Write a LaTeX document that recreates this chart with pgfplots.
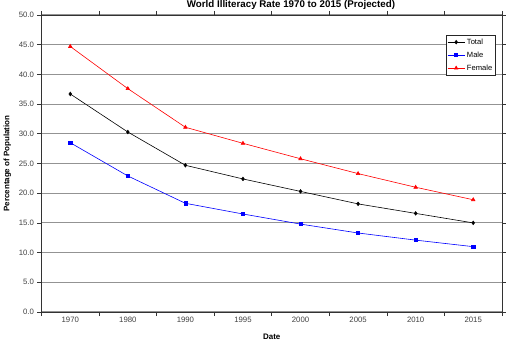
\documentclass[border=0pt]{standalone}
\usepackage{pgfplots}
\pgfplotsset{compat=1.18}
\usepackage{fontspec}
\setmainfont{Liberation Sans}

% World illiteracy rate, per cent of population
\pgfplotstableread{
idx year total male female
0 1970 36.7 28.5 44.7
1 1980 30.3 22.9 37.6
2 1990 24.7 18.3 31.1
3 1995 22.4 16.5 28.4
4 2000 20.3 14.8 25.8
5 2005 18.2 13.3 23.3
6 2010 16.6 12.1 21.0
7 2015 15.0 11.0 18.9
}\illiteracy

\begin{document}
\begin{tikzpicture}
\useasboundingbox (0bp,0bp) rectangle (507bp,360bp);
\node[anchor=base, font=\bfseries\fontsize{9.8}{11}\selectfont] at (291bp,352.5bp)
  {World Illiteracy Rate 1970 to 2015 (Projected)};
\begin{axis}[
  at={(41.5bp,48bp)}, anchor=south west,
  scale only axis, width=460.5bp, height=297bp,
  xmin=-0.5, xmax=7.5, ymin=0, ymax=50,
  xtick={0,...,7},
  xticklabels={1970,1980,1990,1995,2000,2005,2010,2015},
  minor xtick={-0.5,0.5,...,7.5},
  ytick={0,5,...,50},
  tick align=outside,
  major tick length=4bp, minor tick length=4bp,
  x tick style={draw=none},
  minor x tick style={draw=gray!40!black, line width=0.7bp},
  y tick style={draw=gray!40!black, line width=0.7bp},
  axis line style={draw=gray!40!black, line width=0.8bp},
  ymajorgrids,
  major grid style={draw=gray!85, line width=1bp},
  tick label style={font=\fontsize{7.8}{9}\selectfont, text=black!75},
  xticklabel style={yshift=2bp},
  /pgf/number format/.cd, fixed, fixed zerofill, precision=1, assume math mode=true,
  /pgfplots/.cd,
  xlabel={Date},
  ylabel={Percentage of Population},
  label style={font=\bfseries\fontsize{8}{9}\selectfont},
  xlabel style={at={(axis description cs:0.5,-0.084)}, anchor=center},
  ylabel style={at={(axis description cs:-0.074,0.5)}, anchor=center},
  legend style={at={(0.987,0.933)}, anchor=north east,
    draw=gray!30!black, line width=0.6bp, fill=white,
    font=\fontsize{7.6}{8.5}\selectfont, row sep=2bp,
    inner sep=1.5bp},
  legend cell align=left,
]
\addplot[black, line width=0.6bp, mark=diamond*, mark size=1.8bp]
  table[x=idx, y=total] {\illiteracy};
\addlegendentry{Total}
\addplot[blue, line width=0.6bp, mark=square*, mark size=1.6bp]
  table[x=idx, y=male] {\illiteracy};
\addlegendentry{Male}
\addplot[red, line width=0.6bp, mark=triangle*, mark size=2bp]
  table[x=idx, y=female] {\illiteracy};
\addlegendentry{Female}
\end{axis}
\end{tikzpicture}
\end{document}
